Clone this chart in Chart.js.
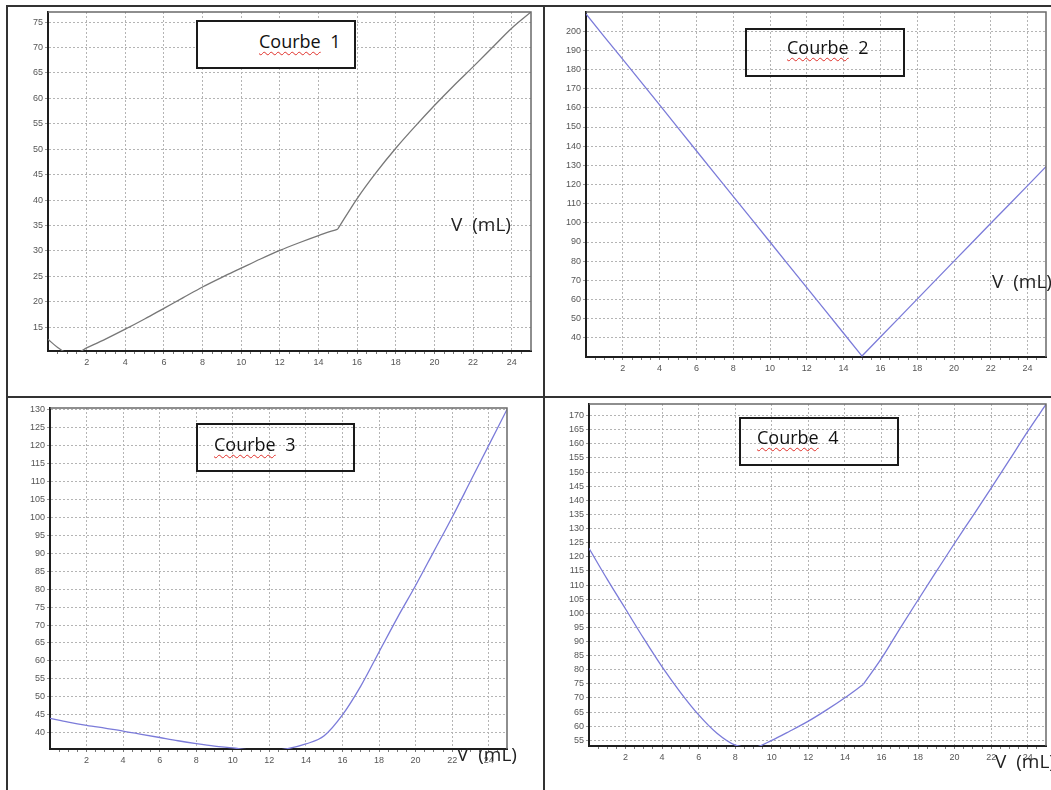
<!DOCTYPE html>
<html lang="fr">
<head>
<meta charset="utf-8">
<script src="https://cdn.jsdelivr.net/npm/chart.js@4.4.1/dist/chart.umd.min.js"></script>
<style>
  html, body { margin: 0; padding: 0; background: #fff; }
  #page { position: relative; width: 1051px; height: 790px; overflow: hidden; }
  canvas { position: absolute; }
  .trait { position: absolute; background: #333; }
  .cadre { position: absolute; border: 2px solid #1a1a1a; box-sizing: border-box; }
  .titre, .volume { position: absolute; font-family: "Open Sans", sans-serif; color: #111; line-height: 22px; white-space: nowrap; word-spacing: 5px; }
  .titre { font-size: 18px; }
  .titre span { text-decoration: underline wavy #e0302a; text-decoration-thickness: 1px; text-underline-offset: 3px; }
  .volume { font-size: 19px; color: #222; }
</style>
</head>
<body>
<div id="page">
  <div class="trait" style="left:6px;top:5px;width:1045px;height:2px"></div>
  <div class="trait" style="left:6px;top:5px;width:2px;height:785px"></div>
  <div class="trait" style="left:543px;top:5px;width:2px;height:785px"></div>
  <div class="trait" style="left:6px;top:396px;width:1045px;height:2px"></div>

  <canvas id="graphique1"></canvas>
  <canvas id="graphique2"></canvas>
  <canvas id="graphique3"></canvas>
  <canvas id="graphique4"></canvas>

  <div class="cadre" style="left:196px;top:20px;width:160px;height:49px;background:#fff"></div>
  <div class="titre" style="left:259px;top:30px"><span>Courbe</span> 1</div>
  <div class="cadre" style="left:745px;top:28px;width:160px;height:49px"></div>
  <div class="titre" style="left:787px;top:36px"><span>Courbe</span> 2</div>
  <div class="cadre" style="left:196px;top:423px;width:159px;height:49px"></div>
  <div class="titre" style="left:214px;top:433px"><span>Courbe</span> 3</div>
  <div class="cadre" style="left:739px;top:417px;width:160px;height:49px"></div>
  <div class="titre" style="left:757px;top:426px"><span>Courbe</span> 4</div>

  <div class="volume" style="left:451px;top:213px">V (mL)</div>
  <div class="volume" style="left:992px;top:270px">V (mL)</div>
  <div class="volume" style="left:457px;top:743px">V (mL)</div>
  <div class="volume" style="left:995px;top:750px">V (mL)</div>
</div>

<script>
// Volumes versés (mL)
const volumes1 = [0, 0.5, 1, 1.5, 2, 3, 4, 5, 6, 7, 8, 9, 10, 11, 12, 13, 14, 15, 16, 17, 18, 19, 20, 21, 22, 23, 24, 25];
const volumes = [0, 1, 2, 3, 4, 5, 6, 7, 8, 9, 10, 11, 12, 13, 14, 15, 16, 17, 18, 19, 20, 21, 22, 23, 24, 25];

// Valeurs
const courbe1 = [12.6, 11.0, 10.0, 10.0, 10.9, 12.7, 14.6, 16.6, 18.7, 20.8, 22.9, 24.8, 26.6, 28.4, 30.1, 31.6, 33.0, 34.3, 40.3, 45.5, 50.2, 54.5, 58.6, 62.5, 66.2, 70.0, 73.8, 77.0];
const courbe2 = [209, 197, 185.3, 173.4, 161.5, 149.5, 137.6, 125.7, 113.8, 101.9, 90, 78.1, 66.2, 54.3, 42.4, 30.5, 40.4, 50.3, 60.2, 70.1, 80, 89.9, 99.8, 109.6, 119.4, 129.3];
const courbe3 = [44, 43, 42.1, 41.3, 40.5, 39.6, 38.7, 37.8, 37.0, 36.3, 35.8, 35.2, 35.0, 35.6, 36.9, 39.2, 45, 53, 62.5, 72, 81, 90.5, 100, 110, 120, 130];
const courbe4 = [123, 112, 101.5, 91, 81, 72, 64, 57.5, 53.3, 52.5, 55, 58.3, 61.8, 65.8, 70.1, 74.8, 84, 94.5, 104.7, 114.8, 124.8, 134.5, 144.3, 154.3, 164.4, 174];

// Graduations
const ticksX = [2, 4, 6, 8, 10, 12, 14, 16, 18, 20, 22, 24];
const ticksY1 = [15, 20, 25, 30, 35, 40, 45, 50, 55, 60, 65, 70, 75];
const ticksY2 = [40, 50, 60, 70, 80, 90, 100, 110, 120, 130, 140, 150, 160, 170, 180, 190, 200];
const ticksY3 = [40, 45, 50, 55, 60, 65, 70, 75, 80, 85, 90, 95, 100, 105, 110, 115, 120, 125, 130];
const ticksY4 = [55, 60, 65, 70, 75, 80, 85, 90, 95, 100, 105, 110, 115, 120, 125, 130, 135, 140, 145, 150, 155, 160, 165, 170];

// petites graduations tous les 0,5 mL
const graduationsX = [];
for (let v = 0.5; v < 25; v += 0.5) graduationsX.push(v);

const policeTicks = { family: "'Liberation Sans', Arial, sans-serif", size: 9 };
const couleurGrille = "#b4b4b4";

// bord haut et droit du cadre
const cadrePlugin = {
    id: "cadre",
    afterDraw(chart) {
        const { ctx, chartArea: a } = chart;
        ctx.save();
        ctx.strokeStyle = "#6a6a6a";
        ctx.lineWidth = 1.5;
        ctx.beginPath();
        ctx.moveTo(a.left, a.top);
        ctx.lineTo(a.right, a.top);
        ctx.lineTo(a.right, a.bottom);
        ctx.stroke();
        ctx.restore();
    }
};

// coupe la courbe en morceaux au point anguleux (équivalence) pour garder l'angle net
function morceaux(xs, ys, cassure, couleur, lisse) {
    const bornes = cassure == null ? [[0, xs.length]] : [[0, cassure + 1], [cassure, xs.length]];
    return bornes.map(([a, b]) => ({
        data: xs.slice(a, b).map((v, i) => ({ x: v, y: ys[a + i] })),
        borderColor: couleur,
        borderWidth: 1.3,
        pointRadius: 0,
        fill: false,
        tension: 0,
        cubicInterpolationMode: lisse ? "monotone" : "default"
    }));
}

function creerGraphique(id, zone, xs, ys, cassure, couleur, yMin, yMax, ticksY, lisse) {
    const canvas = document.getElementById(id);
    canvas.style.left = zone.x + "px";
    canvas.style.top = zone.y + "px";
    canvas.width = zone.w;
    canvas.height = zone.h;

    new Chart(canvas, {
        type: "line",
        data: { datasets: morceaux(xs, ys, cassure, couleur, lisse) },
        options: {
            responsive: false,
            animation: false,
            events: [],
            layout: { padding: { top: zone.haut - zone.y, right: zone.x + zone.w - zone.droite, left: 0, bottom: 0 } },
            plugins: { legend: { display: false }, tooltip: { enabled: false } },
            scales: {
                x: {
                    type: "linear",
                    min: 0,
                    max: 25,
                    afterBuildTicks: s => { s.ticks = graduationsX.map(v => ({ value: v })); },
                    afterFit: s => { s.height = zone.y + zone.h - zone.bas; s.paddingLeft = 0; s.paddingRight = 0; },
                    ticks: {
                        autoSkip: false,
                        maxRotation: 0,
                        padding: 3,
                        font: policeTicks,
                        color: "#555",
                        callback: v => ticksX.includes(v) ? String(v) : ""
                    },
                    grid: {
                        color: c => (c.tick && ticksX.includes(c.tick.value)) ? couleurGrille : "rgba(0,0,0,0)",
                        tickColor: "#777",
                        tickLength: 3
                    },
                    border: { color: "#1e1e1e", width: 2, dash: [2, 2] }
                },
                y: {
                    min: yMin,
                    max: yMax,
                    afterBuildTicks: s => { s.ticks = ticksY.map(v => ({ value: v })); },
                    afterFit: s => { s.width = zone.gauche - zone.x; s.paddingTop = 0; s.paddingBottom = 0; },
                    ticks: { padding: 2, font: policeTicks, color: "#555" },
                    grid: { color: couleurGrille, tickColor: "#999", tickLength: 3 },
                    border: { color: "#1e1e1e", width: 2, dash: [2, 2] }
                }
            }
        },
        plugins: [cadrePlugin]
    });
}

document.addEventListener("DOMContentLoaded", () => {
    const gris = "#777777";
    const bleu = "#7b7bd9";

    creerGraphique("graphique1", { x: 8, y: 7, w: 535, h: 389, gauche: 48, haut: 12, droite: 531, bas: 351 },
        volumes1, courbe1, 17, gris, 10.3, 77, ticksY1, true);
    creerGraphique("graphique2", { x: 545, y: 7, w: 506, h: 389, gauche: 586, haut: 12, droite: 1046, bas: 357 },
        volumes, courbe2, null, bleu, 30, 210, ticksY2, false);
    creerGraphique("graphique3", { x: 8, y: 398, w: 535, h: 392, gauche: 50, haut: 408, droite: 507, bas: 749 },
        volumes, courbe3, null, bleu, 35.5, 130.4, ticksY3, true);
    creerGraphique("graphique4", { x: 545, y: 398, w: 506, h: 392, gauche: 589, haut: 404, droite: 1046, bas: 746 },
        volumes, courbe4, 15, bleu, 53, 174.1, ticksY4, true);
});
</script>
</body>
</html>
